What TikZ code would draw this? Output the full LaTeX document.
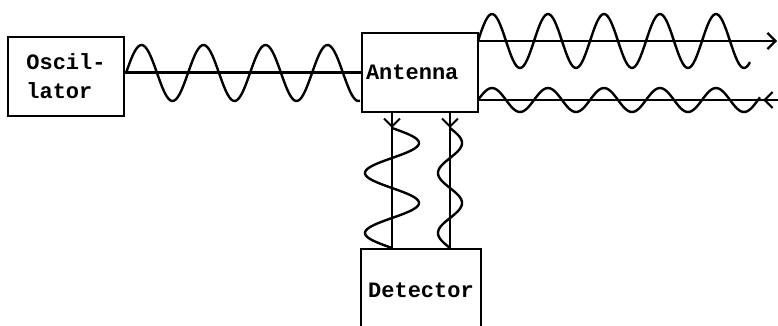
\documentclass[tikz,border=0pt]{standalone}
\usepackage{fontspec}
\setmonofont{Liberation Mono}
\usetikzlibrary{arrows.meta,positioning,calc,decorations.markings}

\begin{document}
\begin{tikzpicture}[x=1pt,y=-1pt,
  box/.style={draw,line width=2pt,minimum width=116pt,minimum height=79pt,
    inner sep=2pt,font=\ttfamily\bfseries\fontsize{22}{29}\selectfont},
  axis/.style={line width=2.2pt},
  wave/.style={line width=2.4pt},
  barbtip/.style={-{Straight Barb[length=8pt,width=16pt,line width=2.2pt]}},
  barb/.style={postaction={decorate},decoration={markings,
    mark=at position #1 with {\arrow{Straight Barb[length=8pt,width=16pt,line width=2pt]}}}},
  revbarb/.style={postaction={decorate},decoration={markings,
    mark=at position #1 with {\arrowreversed{Straight Barb[length=8pt,width=16pt,line width=2.2pt]}}}},
]
  \useasboundingbox (0,0) rectangle (778,325);
  \node[box,text width=108pt,align=left] (ant) at (420,72.5) {Antenna};
  \node[box,align=left,left=236pt of ant,yshift=-3.5pt] (osc) {Oscil-\\lator};
  \node[box,draw=none,minimum width=118pt,minimum height=80pt,below=136pt of ant,
    xshift=1pt] (det) {Detector};
  \draw[line width=2pt] (det.south west) -- (det.north west)
    -- (det.north east) -- (det.south east);
  % oscillator to antenna
  \draw[axis] (osc.east |- ant.west) -- (ant.west);
  \draw[wave] plot[domain=126:360,samples=150] (\x,{73-28*sin((\x-126)*5.806)});
  % outgoing and returning waves
  \coordinate (out) at (777,41);
  \coordinate (back) at (778,100);
  \draw[axis,barbtip] (out -| ant.east) -- (out);
  \draw[wave] plot[domain=478:750,samples=150] (\x,{41-27*sin((\x-478)*6.4286)});
  \draw[axis,revbarb=0.95] (back -| ant.east) -- (back);
  \draw[wave] plot[domain=478:760,samples=150] (\x,{100-12*sin((\x-478)*6.4286)});
  % antenna to detector
  \coordinate (d1) at (392,0);
  \coordinate (d2) at (450,0);
  \draw[line width=1.6pt,barb=0.11] (d1 |- ant.south) -- (d1 |- det.north);
  \draw[line width=1.6pt,barb=0.11] (d2 |- ant.south) -- (d2 |- det.north);
  \draw[wave] plot[domain=128:248,samples=120] ({392+27*sin((\x-128)*6)},\x);
  \draw[wave] plot[domain=128:248,samples=120] ({450+12*sin((\x-128)*6)},\x);
\end{tikzpicture}
\end{document}
